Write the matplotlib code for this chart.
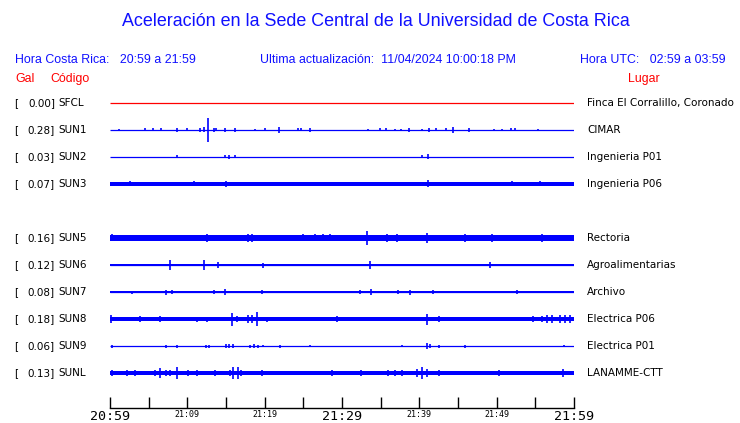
import matplotlib
matplotlib.use('Agg')
import matplotlib.pyplot as plt
import matplotlib.transforms as mtransforms

# station info (top to bottom), row 4 is empty (no SUN4)
codes = ['SFCL', 'SUN1', 'SUN2', 'SUN3', 'SUN5', 'SUN6', 'SUN7', 'SUN8', 'SUN9', 'SUNL']
gal = [0.00, 0.28, 0.03, 0.07, 0.16, 0.12, 0.08, 0.18, 0.06, 0.13]
places = ['Finca El Corralillo, Coronado', 'CIMAR', 'Ingenieria P01', 'Ingenieria P06',
          'Rectoria', 'Agroalimentarias', 'Archivo', 'Electrica P06', 'Electrica P01', 'LANAMME-CTT']
rows = [0, 1, 2, 3, 5, 6, 7, 8, 9, 10]
colors = ['red'] + ['blue'] * 9

# background noise half-width of each trace (pixels)
noise = [0, 0, 0, 1.8, 2.6, 1.3, 1.4, 2.0, 0, 2.0]

# spikes: minutes after 20:59, half amplitude (pixels)
spike_t = [
    [],
    [1.2, 4.5, 5.5, 6.6, 8.7, 9.9, 11.6, 12.2, 12.7, 13.4, 13.7, 14.9, 16.1, 18.7, 20.1, 21.8,
     24.3, 24.7, 25.9, 33.3, 34.9, 35.7, 36.8, 37.6, 38.7, 40.3, 41.2, 42.2, 43.5, 44.4, 46.4,
     49.6, 50.7, 51.8, 52.4, 55.4],
    [8.7, 14.9, 15.4, 16.1, 40.3, 41.1],
    [2.6, 10.8, 15.0, 41.1, 52.0, 55.6],
    [0.2, 8.0, 11.2, 12.5, 14.7, 16.8, 17.8, 18.3, 23.3, 25.0, 26.5, 27.5, 28.4, 33.2, 35.8,
     37.1, 38.3, 39.6, 41.0, 45.9, 49.4, 51.3, 54.7, 55.8, 59.1],
    [7.7, 12.1, 14.0, 19.8, 33.6, 49.1],
    [2.8, 7.3, 8.0, 13.4, 14.9, 19.7, 32.3, 33.8, 37.3, 38.8, 41.8, 52.6],
    [0.1, 3.9, 6.5, 11.2, 12.5, 15.8, 16.4, 17.8, 18.4, 19.0, 20.3, 29.3, 36.1, 41.0, 42.5,
     54.7, 55.8, 56.5, 57.1, 58.2, 58.8, 59.5],
    [0.2, 7.2, 8.7, 12.4, 12.8, 15.0, 15.4, 15.9, 18.1, 18.6, 19.2, 19.8, 22.0, 25.8, 37.8,
     41.0, 41.4, 42.6, 45.9, 58.7],
    [0.2, 2.2, 3.2, 5.8, 6.5, 7.3, 7.8, 8.7, 10.1, 11.2, 13.6, 15.5, 15.9, 16.5, 17.0, 18.5,
     19.7, 22.5, 25.8, 28.7, 32.5, 36.0, 36.8, 37.7, 39.7, 40.4, 41.0, 42.5, 45.7, 48.3, 50.3,
     58.6],
]
spike_a = [
    [],
    [1, 1.5, 1.5, 1.5, 2, 1.5, 2, 2.5, 12, 2, 1.5, 2, 2, 1, 1.5, 3, 1.5, 1.5, 2, 1, 1.5, 1.5,
     1, 1, 2, 1, 2, 1.5, 1.5, 3, 2, 1, 1, 1.5, 1.5, 1],
    [1.5, 1.5, 2, 1.5, 1.5, 2.5],
    [2.5, 2.5, 3, 3.5, 2.5, 2.5],
    [3.5, 3, 2.5, 4, 3, 2.5, 4, 4, 3, 3.5, 3.5, 3.5, 3.5, 7, 4, 4, 3, 3, 5, 4, 4, 3, 3, 4, 2.5],
    [5.5, 5.5, 3, 2.5, 4, 3],
    [1.5, 2.5, 2, 2, 3, 2, 2, 3, 2, 2.5, 2, 2],
    [4, 3, 3, 2.5, 2.5, 6.5, 3, 4, 4, 7, 2.5, 3, 2, 5.5, 3, 3, 3, 4.5, 4.5, 4, 4, 4],
    [1.5, 1.5, 1.5, 1.5, 1.5, 2, 2, 2, 1.5, 2, 1.5, 1, 1.5, 1, 1, 2.5, 2, 1.5, 1.5, 1],
    [3, 2.5, 2.5, 2.5, 4.7, 3, 3, 6, 2.5, 2.5, 2.5, 2.5, 5.5, 5.5, 3, 2, 2.5, 2, 2, 2.5, 2.5,
     2.5, 3, 2.5, 4, 6.3, 4, 2.5, 2, 2, 3, 4],
]

tick_major = [0, 10, 20, 30, 40, 50, 60]
tick_labels = ['20:59', '21:09', '21:19', '21:29', '21:39', '21:49', '21:59']
tick_big = ['20:59', '21:29', '21:59']

W, H = 740, 423
ROW_PX = 27.0
BLUE = '#1010ff'

fig = plt.figure(figsize=(W / 100, H / 100), dpi=100)
fig.patch.set_facecolor('white')


def fx(x):
    return x / W


def fy(y):
    return 1 - y / H


# trace area: x 110..574 px, bottom axis at y=408 px, first row at y=103 px
top_px = 103 - ROW_PX / 2
ax = fig.add_axes([fx(110), fy(408), (574 - 110) / W, (408 - top_px) / H])
ax.set_xlim(0, 60)
ax.set_ylim((408 - 103) / ROW_PX, -0.5)
for s in ['top', 'left', 'right']:
    ax.spines[s].set_visible(False)
ax.spines['bottom'].set_linewidth(1.0)
ax.set_yticks([])

for i, r in enumerate(rows):
    c = colors[i]
    ax.hlines(r, 0, 60, color=c, lw=0.9)
    if noise[i] > 0:
        h = noise[i] / ROW_PX
        ax.fill_between([0, 60], r - h, r + h, color=c, lw=0)
    for t, a in zip(spike_t[i], spike_a[i]):
        h = a / ROW_PX
        ax.vlines(t, r - h, r + h, color=c, lw=1.2)

ax.set_xticks(tick_major)
ax.set_xticks([5, 15, 25, 35, 45, 55], minor=True)
ax.set_xticklabels(tick_labels)
ax.tick_params(axis='x', which='both', direction='in', length=8, width=1, pad=1.5)
for lab in ax.get_xticklabels():
    lab.set_family('DejaVu Sans Mono')
    lab.set_fontsize(9.6 if lab.get_text() in tick_big else 6)
    lab.set_verticalalignment('top')

# station labels, tied to the trace rows
tr = mtransforms.blended_transform_factory(fig.transFigure, ax.transData)
lf = 7.5
for i, r in enumerate(rows):
    ax.text(fx(14), r, '[', transform=tr, ha='left', va='center', fontsize=lf, clip_on=False)
    ax.text(fx(55), r, f'{gal[i]:.2f}]', transform=tr, ha='right', va='center', fontsize=lf,
            clip_on=False)
    ax.text(fx(58), r, codes[i], transform=tr, ha='left', va='center', fontsize=lf,
            clip_on=False)
    ax.text(fx(587), r, places[i], transform=tr, ha='left', va='center', fontsize=lf,
            clip_on=False)

hf = 'Liberation Sans'
fig.text(fx(376), fy(22), 'Aceleración en la Sede Central de la Universidad de Costa Rica',
         ha='center', va='center', color=BLUE, fontsize=12.9, family=hf)
fig.text(fx(15), fy(60), 'Hora Costa Rica:   20:59 a 21:59', ha='left', va='center',
         color=BLUE, fontsize=8.9, family=hf)
fig.text(fx(260), fy(60), 'Ultima actualización:  11/04/2024 10:00:18 PM', ha='left',
         va='center', color=BLUE, fontsize=8.9, family=hf)
fig.text(fx(580), fy(60), 'Hora UTC:   02:59 a 03:59', ha='left', va='center',
         color=BLUE, fontsize=8.9, family=hf)
fig.text(fx(15), fy(79), 'Gal', ha='left', va='center', color='red', fontsize=8.9, family=hf)
fig.text(fx(50), fy(79), 'Código', ha='left', va='center', color='red', fontsize=8.9, family=hf)
fig.text(fx(628), fy(79), 'Lugar', ha='left', va='center', color='red', fontsize=8.9, family=hf)

fig.savefig('out.png', dpi=100)
